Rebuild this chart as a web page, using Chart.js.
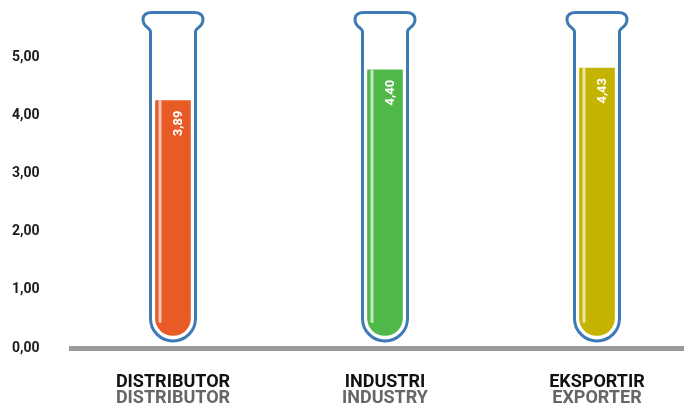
<!DOCTYPE html>
<html>
<head>
<meta charset="utf-8">
<script src="https://cdn.jsdelivr.net/npm/chart.js@4.4.0/dist/chart.umd.min.js"></script>
<style>
  html, body { margin: 0; padding: 0; background: #fff; }
  #wrap { width: 684px; height: 416px; position: relative; }
</style>
</head>
<body>
<div id="wrap"><canvas id="tubeChart"></canvas></div>
<script>
// data
const categories = ['DISTRIBUTOR', 'INDUSTRI', 'EKSPORTIR'];
const categoriesEn = ['DISTRIBUTOR', 'INDUSTRY', 'EXPORTER'];
const values = [3.89, 4.40, 4.43];
const yTicks = [0, 1, 2, 3, 4, 5];
const fillColors = ['#E85B26', '#50B848', '#C4B400'];

const TUBE_BLUE = '#3E7AB6';

Chart.defaults.font.family = 'Roboto';

const fmt = (v) => v.toFixed(2).replace('.', ',');

// glass tube drawn around each bar
const tubePlugin = {
    id: 'tubes',
    beforeDatasetsDraw(chart) {
        const ctx = chart.ctx;
        const meta = chart.getDatasetMeta(0);
        const top = chart.chartArea.top - 44.5;
        ctx.save();
        ctx.strokeStyle = TUBE_BLUE;
        ctx.lineWidth = 3;
        meta.data.forEach((bar) => {
            const c = bar.x;
            const r = 22.5;
            const bottomC = bar.base - 17;
            ctx.beginPath();
            ctx.moveTo(c - r, bottomC);
            ctx.lineTo(c - r, top + 19);
            ctx.bezierCurveTo(c - r, top + 15, c - 30, top + 15, c - 30, top + 7);
            ctx.bezierCurveTo(c - 30, top + 2, c - 26, top, c - 21, top);
            ctx.lineTo(c + 21, top);
            ctx.bezierCurveTo(c + 26, top, c + 30, top + 2, c + 30, top + 7);
            ctx.bezierCurveTo(c + 30, top + 15, c + r, top + 15, c + r, top + 19);
            ctx.lineTo(c + r, bottomC);
            ctx.arc(c, bottomC, r, 0, Math.PI, false);
            ctx.closePath();
            ctx.stroke();
        });
        ctx.restore();
    },
    afterDatasetsDraw(chart) {
        const ctx = chart.ctx;
        const meta = chart.getDatasetMeta(0);
        ctx.save();
        meta.data.forEach((bar, i) => {
            const left = bar.x - bar.width / 2;
            // shine stripe
            ctx.strokeStyle = 'rgba(255,255,255,0.65)';
            ctx.lineWidth = 3;
            ctx.lineCap = 'round';
            ctx.beginPath();
            ctx.moveTo(left + 4.5, bar.y + 1);
            ctx.lineTo(left + 4.5, bar.base - 14);
            ctx.stroke();
            // value label
            ctx.save();
            ctx.translate(bar.x + 9.5, bar.y + 10);
            ctx.rotate(-Math.PI / 2);
            ctx.fillStyle = '#fff';
            ctx.font = 'bold 13px Roboto';
            ctx.textAlign = 'right';
            ctx.textBaseline = 'alphabetic';
            ctx.fillText(fmt(values[i]), 0, 0);
            ctx.restore();
        });
        ctx.restore();
    }
};

const xRange = { min: -0.4811, max: 2.4104 };

new Chart(document.getElementById('tubeChart'), {
    type: 'bar',
    data: {
        datasets: [{
            data: values.map((v, i) => ({ x: i, y: v })),
            backgroundColor: fillColors,
            barThickness: 35,
            borderSkipped: false,
            borderRadius: { topLeft: 0, topRight: 0, bottomLeft: 18, bottomRight: 18 },
            xAxisID: 'x',
            yAxisID: 'y2'
        }]
    },
    options: {
        responsive: true,
        maintainAspectRatio: false,
        animation: false,
        layout: { padding: { top: 57, left: 12, right: 0, bottom: 10 } },
        plugins: { legend: { display: false }, tooltip: { enabled: false } },
        scales: {
            x: {
                type: 'linear',
                position: 'bottom',
                offset: false,
                weight: 0,
                min: xRange.min,
                max: xRange.max,
                grid: { display: false, drawTicks: false, offset: false },
                border: { display: true, color: '#9B9B9B', width: 5 },
                afterBuildTicks: (s) => { s.ticks = categories.map((_, i) => ({ value: i })); },
                afterFit: (s) => { s.height = 42; },
                ticks: {
                    autoSkip: false,
                    maxRotation: 0,
                    padding: 26,
                    color: '#111',
                    font: { size: 18, weight: 'bold', lineHeight: 0.9 },
                    callback: (v) => categories[v]
                }
            },
            x2: {
                type: 'linear',
                position: 'bottom',
                offset: false,
                weight: 1,
                min: xRange.min,
                max: xRange.max,
                grid: { display: false, drawTicks: false, offset: false },
                border: { display: false },
                afterBuildTicks: (s) => { s.ticks = categoriesEn.map((_, i) => ({ value: i })); },
                afterFit: (s) => { s.height = 16; },
                ticks: {
                    autoSkip: false,
                    maxRotation: 0,
                    padding: 0,
                    color: '#666',
                    font: { size: 18, weight: 'bold', lineHeight: 0.9 },
                    callback: (v) => categoriesEn[v]
                }
            },
            y: {
                min: 0,
                max: 5,
                grid: { display: false, drawTicks: false },
                border: { display: false },
                afterBuildTicks: (s) => { s.ticks = yTicks.map((v) => ({ value: v })); },
                afterFit: (s) => { s.width = 59; },
                ticks: {
                    crossAlign: 'far',
                    color: '#1a1a1a',
                    font: { size: 14, weight: 'bold' },
                    callback: (v) => fmt(v)
                }
            },
            y2: {
                display: false,
                min: -0.2066,
                max: 4.612
            }
        }
    },
    plugins: [tubePlugin]
});
</script>
</body>
</html>
